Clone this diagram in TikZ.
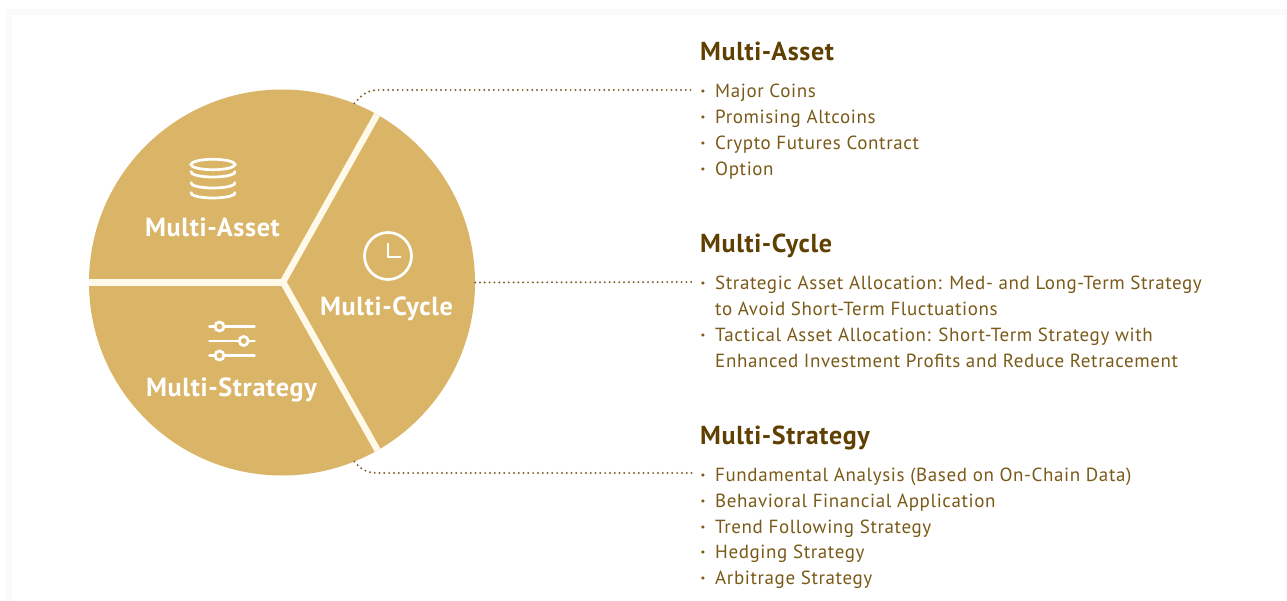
\documentclass[tikz,border=0pt]{standalone}
\usepackage{fontspec}
\setmainfont{PT Sans}[LetterSpace=3.2]
\newfontfamily\headfont{PT Sans Bold}[LetterSpace=2.5]
\definecolor{pieC}{HTML}{DAB567}
\definecolor{creamC}{HTML}{FFF9EA}
\definecolor{bodyC}{HTML}{7A5A18}
\definecolor{headC}{HTML}{5F4000}
\definecolor{dotC}{HTML}{7D6432}
\definecolor{edgeC}{HTML}{FAFAFA}
\tikzset{
  x=1pt,y=-1pt,
  headtext/.style={anchor=base west,inner sep=0pt,text=headC,font=\headfont\fontsize{26}{26}\selectfont},
  bodytext/.style={anchor=base west,inner sep=0pt,text=bodyC,font=\fontsize{19}{19}\selectfont},
  dotmark/.style={anchor=base,inner sep=0pt,text=bodyC,font=\bfseries\fontsize{19}{19}\selectfont},
  pietext/.style={anchor=base,inner sep=0pt,text=white,font=\headfont\fontsize{26.2}{26.2}\selectfont},
  leader/.style={draw=dotC,line width=2.2pt,line cap=round,dash pattern=on 0pt off 4.8pt},
  icon/.style={draw=white,line width=2.7pt,line cap=round},
  cut/.style={draw=creamC,line width=6.5pt,line join=miter}
}
\begin{document}
\begin{tikzpicture}
\useasboundingbox (0,0) rectangle (1287,601);
\fill[white] (0,0) rectangle (1287,601);
\fill[edgeC] (6,9) rectangle (1287,601);
\fill[white] (12,15) rectangle (1286,601);

\node[circle,fill=pieC,inner sep=0pt,minimum size=386pt] (pie) at (282,282.5) {};
\begin{scope}
\clip (282,282.5) circle[radius=193pt];
\draw[cut] (378,113) -- (283,282) -- (378,451);
\draw[cut] (80,282.5) -- (283,282.5);
\end{scope}

% coins icon
\draw[icon] (213,164.5) ellipse[x radius=22pt,y radius=5.2pt];
\draw[icon] (213,172) ++(175:22pt and 5pt) arc[start angle=175,end angle=365,x radius=22pt,y radius=5pt];
\draw[icon] (213,183) ++(175:22pt and 5pt) arc[start angle=175,end angle=365,x radius=22pt,y radius=5pt];
\draw[icon] (213,193) ++(175:22pt and 5pt) arc[start angle=175,end angle=365,x radius=22pt,y radius=5pt];

% clock icon
\draw[icon] (388,256) circle[radius=23.5pt];
\draw[icon,line cap=butt] (388,243) -- (388,257) -- (401,257);

% sliders icon
\draw[icon] (209.5,326.5) -- (254.5,326.5);
\draw[icon] (209.5,341) -- (254.5,341);
\draw[icon] (209.5,355.5) -- (254.5,355.5);
\draw[icon,fill=pieC] (219.5,326.5) circle[radius=4.5pt];
\draw[icon,fill=pieC] (243.7,341) circle[radius=4.5pt];
\draw[icon,fill=pieC] (219.5,355.5) circle[radius=4.5pt];

\node[pietext] (la) at (212.5,237) {Multi-Asset};
\node[pietext] (lc) at (386.5,316) {Multi-Cycle};
\node[pietext] (ls) at (231.5,396) {Multi-Strategy};

\node[headtext] (h1) at (700,61) {Multi-Asset};
\node[headtext] (h2) at (700,253) {Multi-Cycle};
\node[headtext] (h3) at (700,444.5) {Multi-Strategy};

\node[dotmark] (d1) at (703,98) {·};
\node[dotmark] (d2) at (703,124) {·};
\node[dotmark] (d3) at (703,150) {·};
\node[dotmark] (d4) at (703,176) {·};
\node[dotmark] (d5) at (703,290) {·};
\node[dotmark] (d6) at (703,341.6) {·};
\node[dotmark] (d7) at (703,481) {·};
\node[dotmark] (d8) at (703,507) {·};
\node[dotmark] (d9) at (703,533) {·};
\node[dotmark] (d10) at (703,558.6) {·};
\node[dotmark] (d11) at (703,584) {·};

\node[bodytext] (t1) at (715,98) {Major Coins};
\node[bodytext] (t2) at (715,124) {Promising Altcoins};
\node[bodytext] (t3) at (715,150) {Crypto Futures Contract};
\node[bodytext] (t4) at (715,176) {Option};
\node[bodytext] (t5) at (715,290) {Strategic Asset Allocation: Med- and Long-Term Strategy};
\node[bodytext] (t5b) at (715,316) {to Avoid Short-Term Fluctuations};
\node[bodytext] (t6) at (715,341.6) {Tactical Asset Allocation: Short-Term Strategy with};
\node[bodytext] (t6b) at (715,367) {Enhanced Investment Profits and Reduce Retracement};
\node[bodytext] (t7) at (715,481) {Fundamental Analysis (Based on On-Chain Data)};
\node[bodytext] (t8) at (715,507) {Behavioral Financial Application};
\node[bodytext] (t9) at (715,533) {Trend Following Strategy};
\node[bodytext] (t10) at (715,558.6) {Hedging Strategy};
\node[bodytext] (t11) at (715,584) {Arbitrage Strategy};

\coordinate (e1) at (694,90);
\coordinate (e2) at (694,282);
\coordinate (e3) at (694,473);
\draw[leader] (pie.68.7) .. controls (362,95) and (366,90.5) .. (378,90) -- (e1);
\draw[leader] (pie.east) -- (e2);
\draw[leader] (pie.-68.5) .. controls (361,469) and (366,473) .. (378,473) -- (e3);
\end{tikzpicture}
\end{document}
